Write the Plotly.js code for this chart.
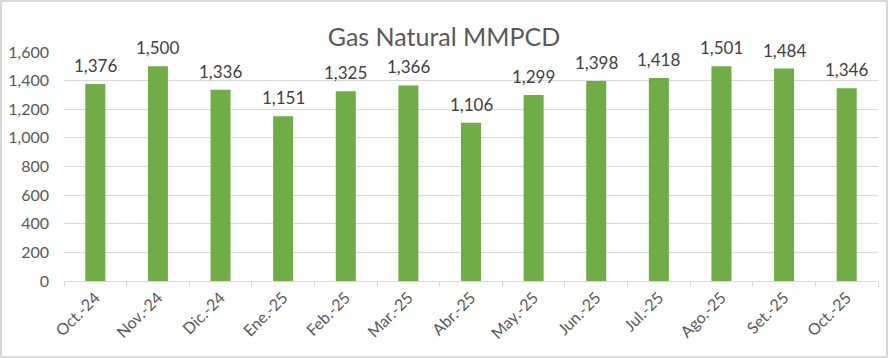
<!DOCTYPE html>
<html><head><meta charset="utf-8">
<script src="https://cdn.plot.ly/plotly-3.0.1.min.js"></script>
<style>
html,body{margin:0;padding:0;background:#fff;}
#chart{width:884px;height:354px;border:2px solid #d9d9d9;}
</style></head>
<body><div id="chart"></div>
<script>
const categories = ["Oct.-24","Nov.-24","Dic.-24","Ene.-25","Feb.-25","Mar.-25","Abr.-25","May.-25","Jun.-25","Jul.-25","Ago.-25","Set.-25","Oct.-25"];
const values = [1376,1500,1336,1151,1325,1366,1106,1299,1398,1418,1501,1484,1346];
const yTicks = [0,200,400,600,800,1000,1200,1400,1600];

const fontFam = "Lato, 'Open Sans', sans-serif";
const annotations = categories.map((c,i)=>({
  x:c, y:values[i], xref:'x', yref:'y', yanchor:'bottom', yshift:6,
  text: values[i].toLocaleString('en-US'), showarrow:false,
  font:{family:fontFam,size:17,color:'#404040'}
}));

Plotly.newPlot('chart',[{
  type:'bar', x:categories, y:values,
  marker:{color:'#70AD47'}, hoverinfo:'skip'
}],{
  width:884, height:354,
  margin:{l:62,r:8,t:50,b:75},
  paper_bgcolor:'#fff', plot_bgcolor:'#fff',
  bargap:0.68,
  showlegend:false,
  title:{text:'Gas Natural MMPCD', font:{family:fontFam,size:25,color:'#595959'},
         x:0.5, xanchor:'center', yref:'container', y:1-35/354, yanchor:'middle'},
  xaxis:{type:'category', showline:true, linecolor:'#d9d9d9', linewidth:1,
         ticks:'outside', tickson:'boundaries', ticklen:5, tickcolor:'#d9d9d9',
         tickangle:-45, tickfont:{family:fontFam,size:16,color:'#595959'},
         showgrid:false, fixedrange:true},
  yaxis:{range:[0,1600], tickvals:yTicks, ticktext:yTicks.map(v=>v.toLocaleString('en-US')),
         showgrid:true, gridcolor:'#d9d9d9', gridwidth:1, zeroline:false, showline:false,
         ticklabelstandoff:14,
         tickfont:{family:fontFam,size:16,color:'#595959'}, fixedrange:true},
  annotations:annotations
},{staticPlot:true});
</script></body></html>
